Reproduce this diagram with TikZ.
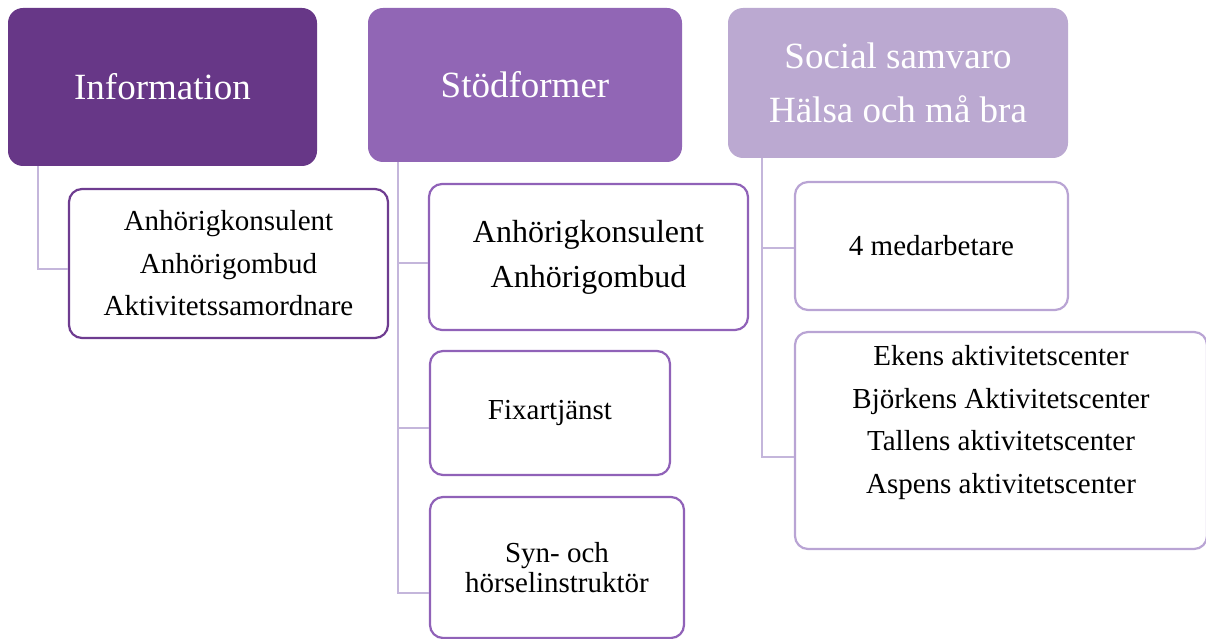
\documentclass[tikz,border=0pt]{standalone}
\usepackage{fontspec}
\setmainfont{Liberation Serif}
\definecolor{deepP}{HTML}{673787}
\definecolor{midP}{HTML}{9166B5}
\definecolor{paleP}{HTML}{BBA9D1}
\definecolor{edgeDeep}{HTML}{6E3C90}
\definecolor{edgeMid}{HTML}{9062B8}
\definecolor{edgePale}{HTML}{B9A4D4}
\definecolor{linkP}{HTML}{C4B6DB}
\tikzset{
  head/.style={rounded corners=15pt, inner sep=0pt, align=center, text=white,
    font=\fontsize{37}{54}\selectfont},
  item/.style={rounded corners=13pt, draw, line width=2.2pt, fill=white,
    inner sep=0pt, align=center, text=black, font=\fontsize{29}{42.5}\selectfont},
  link/.style={draw=linkP, line width=2.2pt},
}
\begin{document}
\begin{tikzpicture}[x=1pt, y=-1pt]
\useasboundingbox (0,0) rectangle (1206,639);

% column headers
\node[head, fill=deepP, minimum width=309pt, minimum height=158pt] (h1) at (162.5,87) {Information};
\node[head, fill=midP, minimum width=314pt, minimum height=154pt] (h2) at (525,85) {Stödformer};
\node[head, fill=paleP, minimum width=340pt, minimum height=150pt] (h3) at (898,83) {Social samvaro\\Hälsa och må bra};

% items
\node[item, draw=edgeDeep, minimum width=319pt, minimum height=149pt] (c1) at (228.5,263.5)
  {Anhörigkonsulent\\Anhörigombud\\Aktivitetssamordnare};
\node[item, draw=edgeMid, minimum width=319pt, minimum height=146pt,
  font=\fontsize{32}{45}\selectfont] (c2a) at (588.5,257)
  {Anhörigkonsulent\\Anhörigombud};
\node[item, draw=edgeMid, minimum width=240pt, minimum height=124pt] (c2b) at (550,413)
  {Fixartjänst};
\node[item, draw=edgeMid, minimum width=254pt, minimum height=141pt,
  font=\fontsize{29}{30}\selectfont] (c2c) at (557,567.5)
  {Syn- och\\hörselinstruktör};
\node[item, draw=edgePale, minimum width=273pt, minimum height=128pt] (c3a) at (931.5,246)
  {4 medarbetare};
\node[item, draw=edgePale, minimum width=412pt, minimum height=217pt] (c3b) at (1001,440.5)
  {Ekens aktivitetscenter\\Björkens Aktivitetscenter\\Tallens aktivitetscenter\\Aspens aktivitetscenter\\\mbox{}};

% trunk heads below each header
\coordinate (j1) at ([xshift=30pt]h1.south west);
\coordinate (j2) at ([xshift=30pt]h2.south west);
\coordinate (j3) at ([xshift=34pt]h3.south west);

% elbow connectors from the trunks to the items
\draw[link] (j1) |- ([yshift=-5.5pt]c1.west);
\draw[link] (j2) |- ([yshift=-6pt]c2a.west);
\draw[link] (j2) |- ([yshift=-15pt]c2b.west);
\draw[link] (j2) |- ([yshift=-25.5pt]c2c.west);
\draw[link] (j3) |- ([yshift=-2pt]c3a.west);
\draw[link] (j3) |- ([yshift=-16.5pt]c3b.west);
\end{tikzpicture}
\end{document}
